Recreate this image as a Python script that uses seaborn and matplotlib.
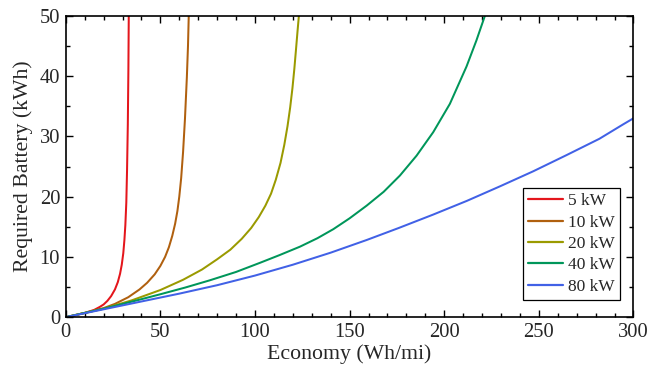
import numpy as np
import pandas as pd
import matplotlib
matplotlib.use("Agg")
import matplotlib.pyplot as plt
import seaborn as sns
from matplotlib.ticker import MultipleLocator

# ---- data ----
series_names = ["5 kW", "10 kW", "20 kW", "40 kW", "80 kW"]

econ_5kw = [0, 5, 10, 15, 18, 20, 22, 24, 26, 27.5, 28.7, 29.6, 30.4, 31.0, 31.5, 32.0, 32.4, 32.8, 33.1, 33.3]
batt_5kw = [0, 0.3, 0.7, 1.2, 1.7, 2.1, 2.7, 3.5, 4.6, 5.8, 7.2, 8.7, 10.6, 12.8, 15.3, 19.0, 24.5, 32.0, 41.0, 50.0]

econ_10kw = [0, 10, 20, 26, 33, 39, 43, 47, 50, 52.5, 54.5, 56.3, 57.8, 59.0, 60.0, 61.0, 62.0, 63.0, 64.0, 64.6, 65.0]
batt_10kw = [0, 0.7, 1.5, 2.2, 3.3, 4.6, 5.7, 7.1, 8.5, 10.0, 11.6, 13.5, 15.5, 17.6, 20.0, 23.1, 27.4, 32.9, 39.8, 45.0, 50.0]

econ_20kw = [0, 20, 35, 50, 62, 72, 80, 87, 93, 98, 102, 105.5, 108.5, 111, 113.5, 115.5, 117.2, 118.6, 119.8, 120.8, 121.7, 122.5, 123.2]
batt_20kw = [0, 1.4, 2.8, 4.5, 6.2, 7.9, 9.6, 11.2, 13.0, 14.8, 16.6, 18.5, 20.5, 22.8, 25.6, 28.6, 31.7, 34.8, 38.0, 41.2, 44.5, 47.5, 50.0]

econ_40kw = [0, 20, 39, 50, 63, 76, 90, 102.5, 113, 123.8, 133, 141.4, 150, 159, 168, 176.6, 185.4, 194.2, 203, 211.8, 217, 221.5]
batt_40kw = [0, 1.4, 2.9, 3.8, 4.9, 6.1, 7.5, 9.0, 10.3, 11.7, 13.1, 14.6, 16.4, 18.5, 20.8, 23.5, 26.8, 30.7, 35.4, 41.6, 45.9, 50.0]

econ_80kw = [0, 20, 40, 60, 80, 100, 120, 140, 159, 176, 194, 212, 229.4, 247, 264.7, 282, 294.6, 300]
batt_80kw = [0, 1.3, 2.6, 3.9, 5.3, 6.9, 8.7, 10.7, 12.8, 14.8, 17.0, 19.3, 21.7, 24.2, 26.9, 29.6, 32.0, 33.0]

colors = ["#e4161c", "#b0600f", "#9a9a00", "#00965a", "#4161e6"]

x_ticks = [0, 50, 100, 150, 200, 250, 300]
y_ticks = [0, 10, 20, 30, 40, 50]

frames = []
for name, ex, by in zip(series_names,
                        [econ_5kw, econ_10kw, econ_20kw, econ_40kw, econ_80kw],
                        [batt_5kw, batt_10kw, batt_20kw, batt_40kw, batt_80kw]):
    frames.append(pd.DataFrame({"Economy": ex, "Battery": by, "Power": name}))
df = pd.concat(frames, ignore_index=True)

sns.set_style("ticks")
plt.rcParams["font.family"] = ["Liberation Serif", "DejaVu Serif"]
plt.rcParams["mathtext.fontset"] = "stix"

fig = plt.figure(figsize=(6.51, 3.78), dpi=100)
ax = fig.add_axes([0.101, 0.161, 0.872, 0.797])

sns.lineplot(data=df, x="Economy", y="Battery", hue="Power",
             hue_order=series_names, palette=colors, estimator=None,
             sort=False, linewidth=1.45, ax=ax)

ax.set_xlim(0, 300)
ax.set_ylim(0, 50)
ax.set_xticks(x_ticks)
ax.set_yticks(y_ticks)
ax.xaxis.set_minor_locator(MultipleLocator(10))
ax.yaxis.set_minor_locator(MultipleLocator(5))
ax.tick_params(which="both", direction="in", top=True, right=True,
               color="black", width=1.0)
ax.tick_params(which="major", length=5, labelsize=14.8, pad=4)
ax.tick_params(which="minor", length=3)
for s in ax.spines.values():
    s.set_linewidth(1.2)
    s.set_color("black")
    s.set_visible(True)

ax.set_xlabel("Economy (Wh/mi)", fontsize=15.7, labelpad=2)
ax.set_ylabel("Required Battery (kWh)", fontsize=15.7, labelpad=5)

leg = ax.legend(loc="lower right", bbox_to_anchor=(0.9765, 0.057),
                borderaxespad=0, fontsize=12.5, frameon=True, fancybox=False,
                edgecolor="black", framealpha=1, handlelength=2.0,
                handletextpad=0.3, labelspacing=0.3, borderpad=0.3,
                title=None)
leg.get_frame().set_linewidth(0.9)
for line in leg.get_lines():
    line.set_linewidth(1.6)

fig.savefig("out.png", dpi=100)
